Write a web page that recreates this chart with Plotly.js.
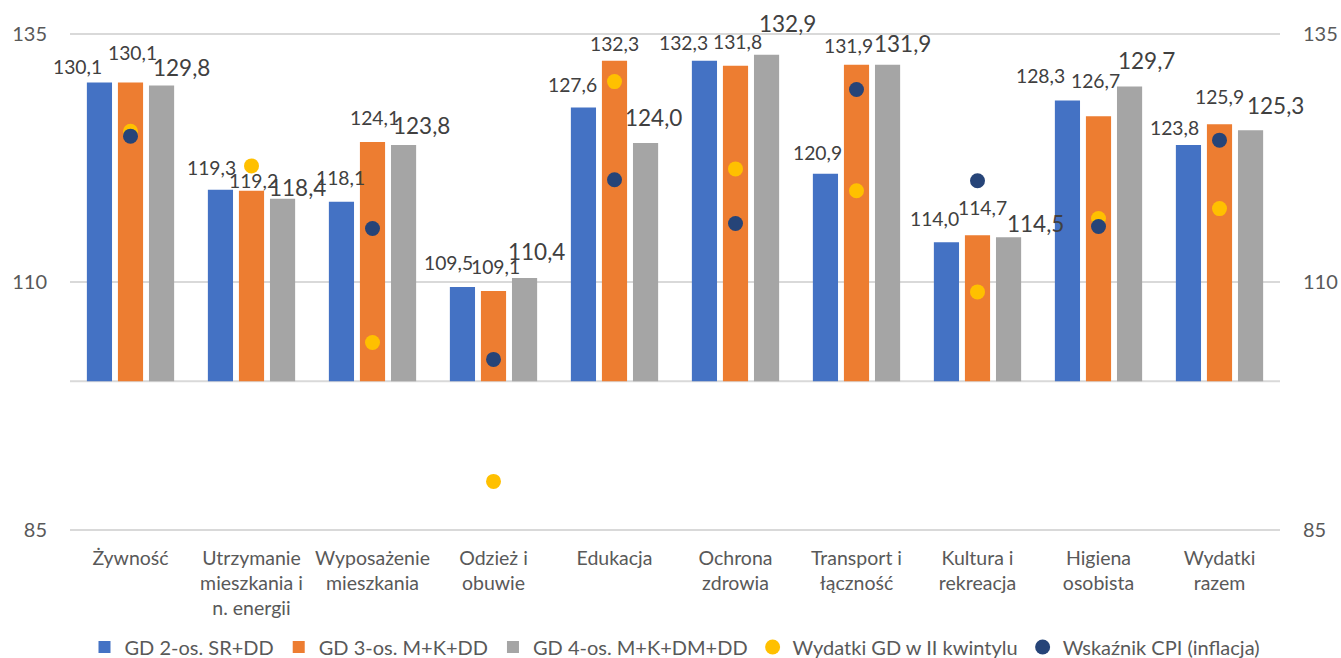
<!DOCTYPE html>
<html>
<head>
<meta charset="utf-8">
<script src="https://cdn.plot.ly/plotly-3.0.1.min.js"></script>
<style>html,body{margin:0;padding:0;background:#fff;}#chart{width:1341px;height:658px;}</style>
</head>
<body>
<div id="chart"></div>
<script>
// ---- data ----
var categories = ["Żywność", "Utrzymanie<br>mieszkania i<br>n. energii", "Wyposażenie<br>mieszkania", "Odzież i<br>obuwie", "Edukacja", "Ochrona<br>zdrowia", "Transport i<br>łączność", "Kultura i<br>rekreacja", "Higiena<br>osobista", "Wydatki<br>razem"];
var seriesNames = ["GD 2-os. SR+DD", "GD 3-os. M+K+DD", "GD 4-os. M+K+DM+DD", "Wydatki GD w II kwintylu", "Wskaźnik CPI (inflacja)"];
var gd2 = [130.1, 119.3, 118.1, 109.5, 127.6, 132.3, 120.9, 114.0, 128.3, 123.8];
var gd3 = [130.1, 119.2, 124.1, 109.1, 132.3, 131.8, 131.9, 114.7, 126.7, 125.9];
var gd4 = [129.8, 118.4, 123.8, 110.4, 124.0, 132.9, 131.9, 114.5, 129.7, 125.3];
var wydatkiKwintyl = [125.2, 121.7, 103.9, 89.9, 130.2, 121.4, 119.2, 109.0, 116.4, 117.4];
var cpi = [124.7, null, 115.4, 102.2, 120.3, 115.9, 129.4, 120.2, 115.6, 124.3];
var baseValue = 100;
var yTicks = [85, 110, 135];
var gridValues = [85, 100, 110, 135];

// ---- styles / label placement (pixels) ----
var barColors = ["#4472C4", "#ED7D31", "#A5A5A5"];
var barPitch = 31;
var labelDx = [
  [-22, -9, -1, -14, -11, -21, -8, -12, -27, -14],
  [2, 2, 2, 2, 0, 2, -8, 5, -3, 0],
  [20, 15, 18, 12, 8, 21, 15, 27, 17, 25]
];
var labelDy = [
  [-16, -22, -24, -24, -23, -18, -21, -24, -25, -18],
  [-30, -10, -25, -24, -17, -24, -19, -28, -36, -28],
  [-18, -11, -20, -27, -26, -31, -21, -14, -26, -25]
];
var labelSizes = [19.3, 19.3, 22.5];
var FONT = "Lato, 'Open Sans', sans-serif";
var TXT = "#595959";

function fmt(v) { return v.toFixed(1).replace(".", ","); }

var barSeries = [gd2, gd3, gd4];
var traces = barSeries.map(function (vals, s) {
  return {
    type: "bar",
    name: seriesNames[s],
    x: categories,
    y: vals.map(function (v) { return v - baseValue; }),
    base: baseValue,
    marker: { color: barColors[s], line: { width: 0 } },
    hoverinfo: "skip"
  };
});
traces.push({
  type: "scatter", mode: "markers", name: seriesNames[3],
  x: categories, y: wydatkiKwintyl,
  marker: { color: "#FFC000", size: 15 }, cliponaxis: false
});
traces.push({
  type: "scatter", mode: "markers", name: seriesNames[4],
  x: categories, y: cpi, yaxis: "y2",
  marker: { color: "#264478", size: 15 }, cliponaxis: false
});

var annotations = [];
barSeries.forEach(function (vals, s) {
  vals.forEach(function (v, i) {
    annotations.push({
      x: categories[i], y: v, xref: "x", yref: "y",
      text: fmt(v), showarrow: false,
      xanchor: "center", yanchor: "middle",
      xshift: (s - 1) * barPitch + labelDx[s][i],
      yshift: -labelDy[s][i],
      font: { family: FONT, size: labelSizes[s], color: "#404040" }
    });
  });
});

var shapes = gridValues.map(function (g) {
  return {
    type: "line", xref: "paper", yref: "y", x0: 0, x1: 1, y0: g, y1: g,
    line: { color: "#D9D9D9", width: 2 }, layer: "below"
  };
});

var yRange = [84.6, 135.4];
var layout = {
  width: 1341, height: 658,
  margin: { l: 70, r: 61, t: 30, b: 124, pad: 0 },
  paper_bgcolor: "#ffffff", plot_bgcolor: "#ffffff",
  barmode: "group", bargap: 0.23, bargroupgap: 0.19,
  font: { family: FONT, color: TXT },
  showlegend: true,
  legend: {
    orientation: "h", x: 0.5, xanchor: "center", xref: "paper",
    y: 0.0167, yanchor: "middle", yref: "container",
    font: { family: FONT, size: 20, color: TXT }, itemwidth: 30, traceorder: "normal"
  },
  xaxis: {
    type: "category", range: [-0.5, categories.length - 0.5], autorange: false,
    showgrid: false, zeroline: false, showline: false, ticks: "",
    tickfont: { family: FONT, size: 19.5, color: TXT }, ticklabelstandoff: 10, fixedrange: true, automargin: false
  },
  yaxis: {
    range: yRange, tickvals: yTicks,
    showgrid: false, zeroline: false, showline: false, ticks: "",
    tickfont: { family: FONT, size: 20, color: TXT }, ticklabelstandoff: 22, fixedrange: true, automargin: false
  },
  yaxis2: {
    range: yRange, tickvals: yTicks, overlaying: "y", side: "right",
    showgrid: false, zeroline: false, showline: false, ticks: "",
    tickfont: { family: FONT, size: 20, color: TXT }, ticklabelstandoff: 22, fixedrange: true, automargin: false
  },
  shapes: shapes,
  annotations: annotations
};

Plotly.newPlot("chart", traces, layout, { displayModeBar: false, staticPlot: true });
</script>
</body>
</html>
